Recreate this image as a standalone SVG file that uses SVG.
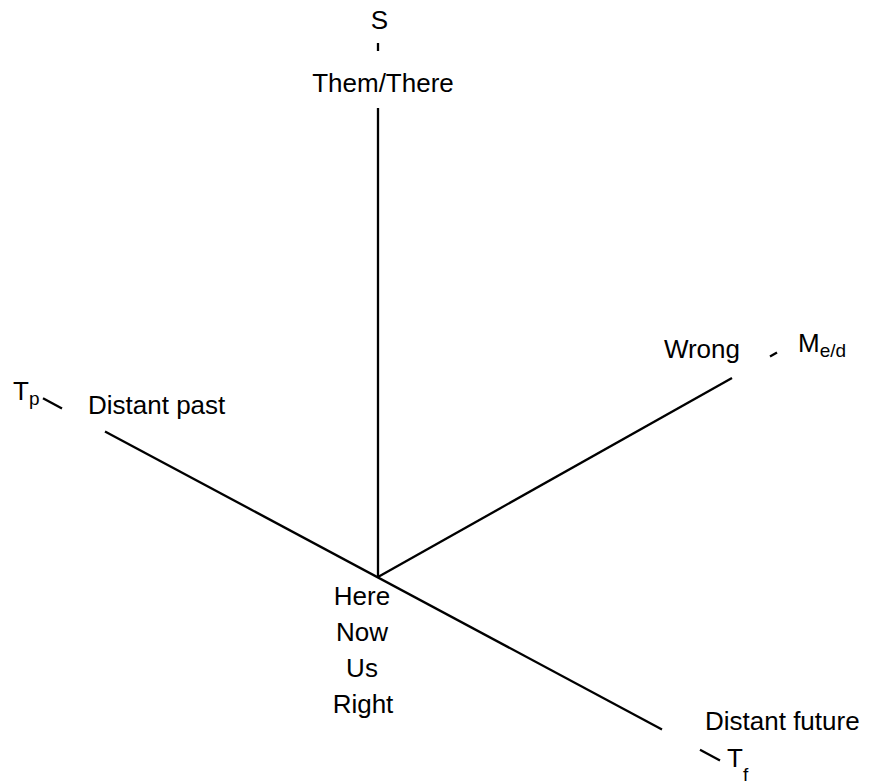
<svg xmlns="http://www.w3.org/2000/svg" width="870" height="784" viewBox="0 0 870 784">
<style>
text{font-family:"Liberation Sans",Arial,sans-serif;font-size:26px;fill:#000}
.sub{font-size:19px}
.m{text-anchor:middle}
line{stroke:#000;stroke-width:2.3;fill:none}
</style>
<rect width="870" height="784" fill="#fff"/>
<g id="connectors">
<line x1="378" y1="43" x2="378" y2="51"/>
<line x1="378" y1="108" x2="378" y2="577"/>
<line x1="43" y1="398.2" x2="62" y2="408.4"/>
<line x1="105" y1="431.4" x2="662" y2="729.4"/>
<line x1="700" y1="749.7" x2="720" y2="760.4"/>
<line x1="378" y1="577" x2="732" y2="378"/>
<line x1="770" y1="356.5" x2="777" y2="352.5"/>
</g>
<g id="S"><text class="m" x="379.5" y="29">S</text></g>
<g id="them-there"><text class="m" x="383" y="92">Them/There</text></g>
<g id="wrong"><text x="740" y="358" text-anchor="end">Wrong</text></g>
<g id="Med"><text x="798" y="352">M<tspan class="sub" y="357">e/d</tspan></text></g>
<g id="Tp"><text x="13" y="400">T<tspan class="sub" y="405">p</tspan></text></g>
<g id="distant-past"><text x="88" y="414">Distant past</text></g>
<g id="center">
<text class="m" x="362" y="605">Here</text>
<text class="m" x="362" y="641">Now</text>
<text class="m" x="362" y="677">Us</text>
<text class="m" x="363" y="713">Right</text>
</g>
<g id="distant-future"><text x="705" y="730">Distant future</text></g>
<g id="Tf"><text x="727" y="767">T<tspan class="sub" y="781">f</tspan></text></g>
</svg>
